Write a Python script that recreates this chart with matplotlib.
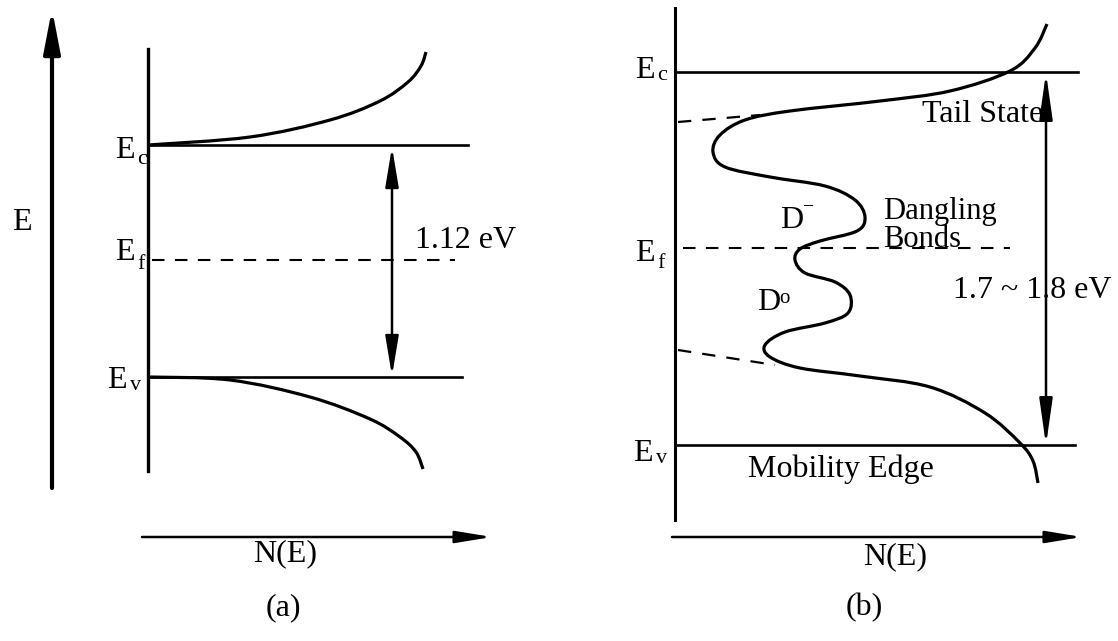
import numpy as np
import matplotlib
matplotlib.use('Agg')
import matplotlib.pyplot as plt
from matplotlib.path import Path
from matplotlib.patches import PathPatch, FancyArrowPatch

plt.rcParams['font.family'] = ['Liberation Serif', 'DejaVu Serif']

# panel (a): crystalline silicon
a_frame_x = 148
a_frame_y = [49, 471]
a_Ec, a_Ef, a_Ev = 145, 260, 377
a_line_end = [468, 455, 462]  # Ec, Ef (dashed), Ev
a_cb_x = [148, 250, 330, 380, 408, 421, 426]
a_cb_y = [145, 137, 120, 101, 82, 66, 52]
a_vb_x = [148, 230, 310, 370, 400, 416, 423]
a_vb_y = [377, 380, 397, 419, 437, 452, 469]
a_gap_x = 392
a_gap_label = '1.12 eV'

# panel (b): amorphous silicon
b_frame_x = 675
b_frame_y = [8, 520]
b_Ec, b_Ef, b_Ev = 72, 248, 445
b_line_end = [1078, 1010, 1075]
b_dos_x = [1047, 1035, 1010, 950, 880, 790, 745, 720, 713, 725, 770, 825, 855,
           865, 857, 820, 800, 795, 805, 835, 850, 848, 825, 785, 765, 770, 800,
           860, 930, 985, 1020, 1033, 1038]
b_dos_y = [24, 48, 71, 91, 101, 111, 120, 135, 152, 167, 177, 186, 200,
           217, 231, 241, 249, 260, 273, 282, 295, 313, 323, 332, 345, 357, 368,
           376, 387, 413, 443, 461, 483]
b_tail_top = [(678, 122), (760, 115)]
b_tail_bot = [(678, 350), (775, 365)]
b_gap_x = 1046
b_gap_label = '1.7 ~ 1.8 eV'


def smooth_path(xs, ys):
    # Catmull-Rom through the read points, handed to matplotlib as cubic Beziers
    p = np.column_stack([xs, ys]).astype(float)
    q = np.vstack([p[0], p, p[-1]])
    verts = [p[0]]
    codes = [Path.MOVETO]
    for i in range(1, len(q) - 2):
        c1 = q[i] + (q[i + 1] - q[i - 1]) / 6
        c2 = q[i + 1] - (q[i + 2] - q[i]) / 6
        verts += [c1, c2, q[i + 1]]
        codes += [Path.CURVE4] * 3
    return Path(verts, codes)


def arrow(ax, p0, p1, style, hl=2.4, hw=0.4, lw=1.8):
    ax.add_patch(FancyArrowPatch(p0, p1, arrowstyle=f'{style},head_length={hl},head_width={hw}',
                                 mutation_scale=10, lw=lw, color='black',
                                 shrinkA=0, shrinkB=0, zorder=3))


def level_label(ax, x, y, sub, subdx, subdy):
    ax.text(x, y, 'E', fontsize=23, va='baseline', ha='left')
    ax.text(x + subdx, y + subdy, sub, fontsize=16, va='baseline', ha='left')


fig = plt.figure(figsize=(11.18, 6.41), dpi=100)
ax = fig.add_axes([0, 0, 1, 1])
ax.set_xlim(0, 1118)
ax.set_ylim(641, 0)
ax.axis('off')

# ---- panel (a)
arrow(ax, (52, 488), (52, 9), '-|>', hl=2.6, hw=0.5, lw=3.0)
ax.text(22, 222, 'E', fontsize=23, ha='center', va='center')
ax.plot([a_frame_x, a_frame_x], a_frame_y, color='black', lw=2.4)
ax.plot([a_frame_x, a_line_end[0]], [a_Ec, a_Ec], color='black', lw=1.9)
ax.plot([a_frame_x, a_line_end[2]], [a_Ev, a_Ev], color='black', lw=1.9)
ax.plot([a_frame_x + 4, a_line_end[1]], [a_Ef, a_Ef], color='black', lw=1.5,
        dashes=(6, 5))
ax.add_patch(PathPatch(smooth_path(a_cb_x, a_cb_y), fill=False, lw=2.3))
ax.add_patch(PathPatch(smooth_path(a_vb_x, a_vb_y), fill=False, lw=2.3))
arrow(ax, (a_gap_x, a_Ev - 1), (a_gap_x, a_Ec + 2), '<|-|>', lw=1.8)
ax.text(415, 248, a_gap_label, fontsize=23, va='baseline', ha='left')
level_label(ax, 115, 158, 'c', 22, 6)
level_label(ax, 115, 260, 'f', 22, 9)
level_label(ax, 107, 388, 'v', 23, 2)
arrow(ax, (142, 537), (492, 537), '-|>', hl=2.2, hw=0.36, lw=1.8)
ax.text(285, 561, 'N(E)', fontsize=23, ha='center', va='baseline')
ax.text(283, 608, '(a)', fontsize=23, ha='center', va='center')

# ---- panel (b)
ax.plot([b_frame_x, b_frame_x], b_frame_y, color='black', lw=2.2)
ax.plot([b_frame_x, b_line_end[0]], [b_Ec, b_Ec], color='black', lw=1.9)
ax.plot([b_frame_x, b_line_end[2]], [b_Ev, b_Ev], color='black', lw=1.9)
ax.plot([b_frame_x + 8, b_line_end[1]], [b_Ef, b_Ef], color='black', lw=1.5,
        dashes=(6, 5))
for seg in (b_tail_top, b_tail_bot):
    ax.plot(*zip(*seg), color='black', lw=1.6, dashes=(6, 5))
ax.add_patch(PathPatch(smooth_path(b_dos_x, b_dos_y), fill=False, lw=2.3))
ax.text(b_gap_x - 93, 298, b_gap_label, fontsize=23, va='baseline', ha='left',
        zorder=1)
arrow(ax, (b_gap_x, b_Ev), (b_gap_x, b_Ec + 1), '<|-|>', hl=2.8, lw=1.8)
ax.text(1043, 122, 'Tail State', fontsize=23, ha='right', va='baseline')
ax.text(883, 219, 'Dangling', fontsize=22, ha='left', va='baseline')
ax.text(883, 247, 'Bonds', fontsize=22, ha='left', va='baseline')
ax.text(780, 228, 'D', fontsize=23, ha='left', va='baseline')
ax.text(803, 212, '\u2212', fontsize=14, ha='left', va='baseline')
ax.text(757, 310, 'D', fontsize=23, ha='left', va='baseline')
ax.text(779, 303, 'o', fontsize=15, ha='left', va='baseline')
ax.text(748, 477, 'Mobility Edge', fontsize=23, ha='left', va='baseline')
level_label(ax, 635, 78, 'c', 22, 2)
level_label(ax, 635, 261, 'f', 22, 7)
level_label(ax, 633, 461, 'v', 23, 2)
arrow(ax, (672, 537), (1082, 537), '-|>', hl=2.2, hw=0.36, lw=1.8)
ax.text(895, 564, 'N(E)', fontsize=23, ha='center', va='baseline')
ax.text(864, 608, '(b)', fontsize=23, ha='center', va='center')

fig.savefig('out.png', dpi=100)
